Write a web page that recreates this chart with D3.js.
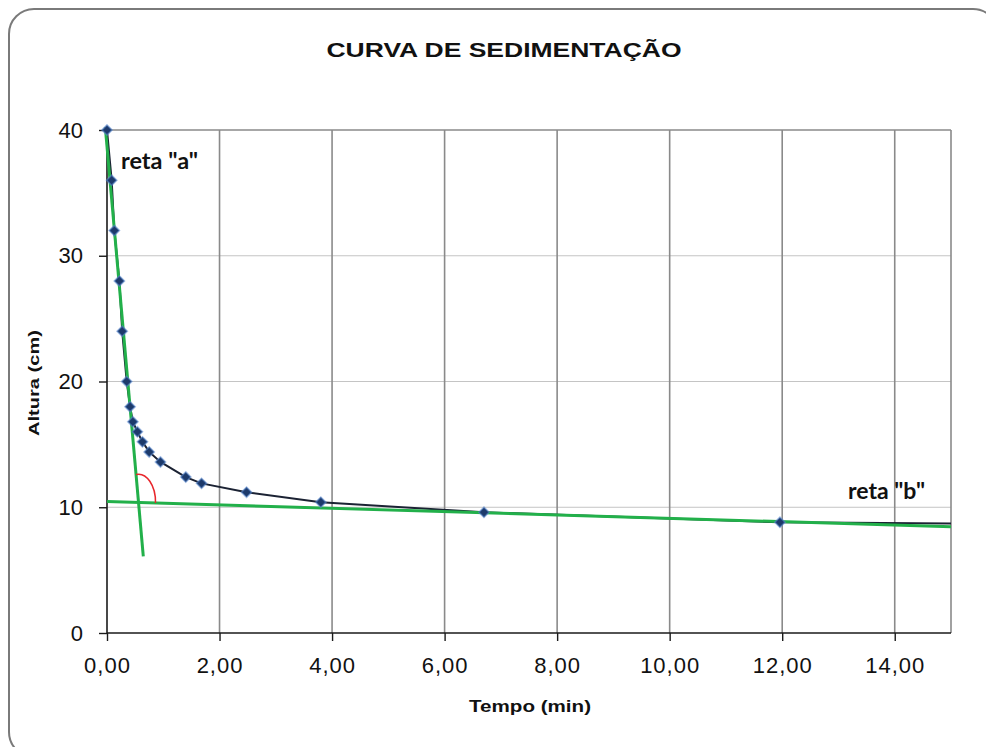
<!DOCTYPE html>
<html>
<head>
<meta charset="utf-8">
<script src="https://cdn.jsdelivr.net/npm/d3@7"></script>
<style>
  body { margin: 0; background: #fff; }
  svg { display: block; }
  .tick text { font-family: "Liberation Sans", Arial, sans-serif; font-size: 22px; fill: #111; }
</style>
</head>
<body>
<div id="chart"></div>
<script>
// Curva de sedimentacao
const tempo = [0, 0.083, 0.13, 0.22, 0.27, 0.35, 0.41, 0.46, 0.54, 0.63, 0.75, 0.95, 1.40, 1.68, 2.48, 3.80, 6.70, 11.96, 16.5];
const altura = [40, 36, 32, 28, 24, 20, 18, 16.8, 16, 15.2, 14.4, 13.6, 12.4, 11.9, 11.2, 10.4, 9.6, 8.8, 8.65];

// retas tangentes
const retaA = [[-0.03, 40.2], [0.645, 6.1]];
const retaB = [[0, 10.45], [15, 8.45]];

const xTicks = [0, 2, 4, 6, 8, 10, 12, 14];
const yTicks = [0, 10, 20, 30, 40];

(function() {
    const width = 986, height = 747;
    const plot = {left: 107, right: 951, top: 130, bottom: 633};

    const svg = d3.select('#chart').append('svg')
        .attr('width', width)
        .attr('height', height);

    // moldura arredondada
    svg.append('rect')
        .attr('x', 9).attr('y', 9)
        .attr('width', 989).attr('height', 748)
        .attr('rx', 25)
        .attr('fill', 'none')
        .attr('stroke', '#7a7a7a')
        .attr('stroke-width', 2);

    const x = d3.scaleLinear().domain([0, 15]).range([plot.left, plot.right]);
    const y = d3.scaleLinear().domain([0, 40]).range([plot.bottom, plot.top]);

    svg.append('defs').append('clipPath').attr('id', 'clip')
        .append('rect')
        .attr('x', plot.left - 6).attr('y', plot.top - 6)
        .attr('width', plot.right - plot.left + 6)
        .attr('height', plot.bottom - plot.top + 6);

    // grade horizontal (clara)
    svg.append('g').selectAll('line')
        .data(yTicks.filter(d => d > 0 && d < 40))
        .enter().append('line')
        .attr('x1', plot.left).attr('x2', plot.right)
        .attr('y1', d => y(d)).attr('y2', d => y(d))
        .attr('stroke', '#c4c4c4').attr('stroke-width', 1);

    // grade vertical (mais escura)
    svg.append('g').selectAll('line')
        .data(xTicks.filter(d => d > 0).concat([15]))
        .enter().append('line')
        .attr('x1', d => x(d)).attr('x2', d => x(d))
        .attr('y1', plot.top).attr('y2', plot.bottom)
        .attr('stroke', '#8a8a8a').attr('stroke-width', 1.6);

    // borda superior da area de plotagem
    svg.append('line')
        .attr('x1', plot.left).attr('x2', plot.right)
        .attr('y1', y(40)).attr('y2', y(40))
        .attr('stroke', '#8a8a8a').attr('stroke-width', 1.6);

    // eixos
    const fmt = d => d3.format('.2f')(d).replace('.', ',');
    const xAxis = svg.append('g')
        .attr('transform', `translate(0,${plot.bottom})`)
        .call(d3.axisBottom(x).tickValues(xTicks).tickFormat(fmt).tickSize(8).tickPadding(16));
    const yAxis = svg.append('g')
        .attr('transform', `translate(${plot.left},0)`)
        .call(d3.axisLeft(y).tickValues(yTicks).tickFormat(d3.format('d')).tickSize(8).tickPadding(16));
    [xAxis, yAxis].forEach(a => {
        a.select('.domain').attr('stroke', '#1a1a1a').attr('stroke-width', 1.6);
        a.selectAll('.tick line').attr('stroke', '#1a1a1a').attr('stroke-width', 1.4);
    });
    xAxis.select('.domain').attr('d', `M${plot.left},0H${plot.right}`);
    yAxis.select('.domain').attr('d', `M0,${plot.bottom}V${plot.top}`);
    xAxis.selectAll('.tick text').attr('letter-spacing', '1px');

    const pts = tempo.map((t, i) => [t, altura[i]]);
    const line = d3.line().x(d => x(d[0])).y(d => y(d[1]));

    const g = svg.append('g').attr('clip-path', 'url(#clip)');

    // curva experimental
    g.append('path')
        .datum(pts)
        .attr('d', line)
        .attr('fill', 'none')
        .attr('stroke', '#1b2233')
        .attr('stroke-width', 2);

    // retas "a" e "b"
    g.selectAll('.reta')
        .data([retaA, retaB])
        .enter().append('path')
        .attr('d', line)
        .attr('fill', 'none')
        .attr('stroke', '#22b04a')
        .attr('stroke-width', 3);

    // marcadores
    g.selectAll('.pt')
        .data(pts)
        .enter().append('path')
        .attr('transform', d => `translate(${x(d[0])},${y(d[1])}) rotate(45)`)
        .attr('d', d3.symbol(d3.symbolSquare, 52))
        .attr('fill', '#1d3a6b')
        .attr('stroke', '#5a88d0')
        .attr('stroke-opacity', 0.55)
        .attr('stroke-width', 1.6);

    // arco vermelho na intersecao das retas
    const pa = retaA.map(d => [x(d[0]), y(d[1])]);
    const pb = retaB.map(d => [x(d[0]), y(d[1])]);
    const ma = (pa[1][1] - pa[0][1]) / (pa[1][0] - pa[0][0]);
    const mb = (pb[1][1] - pb[0][1]) / (pb[1][0] - pb[0][0]);
    const ix = (pb[0][1] - pa[0][1] + ma * pa[0][0] - mb * pb[0][0]) / (ma - mb);
    const iy = pa[0][1] + ma * (ix - pa[0][0]);
    const ry = 28, rx = 17;
    const sx = ix - ry / ma;
    svg.append('path')
        .attr('d', `M${sx},${iy - ry} A${rx},${ry} 0 0 1 ${ix + rx},${iy + mb * rx}`)
        .attr('fill', 'none')
        .attr('stroke', '#e8262b')
        .attr('stroke-width', 1.5);

    // textos
    svg.append('text')
        .attr('x', 504).attr('y', 57)
        .attr('text-anchor', 'middle')
        .attr('font-family', '"Liberation Sans", Arial, sans-serif')
        .attr('font-weight', 'bold')
        .attr('font-size', 21)
        .attr('textLength', 355)
        .attr('lengthAdjust', 'spacingAndGlyphs')
        .attr('fill', '#111')
        .text('CURVA DE SEDIMENTAÇÃO');

    const rotulo = (txt, x0, y0) => svg.append('text')
        .attr('x', x0).attr('y', y0)
        .attr('font-family', 'Lato, "Open Sans", sans-serif')
        .attr('font-weight', 'bold')
        .attr('font-size', 22)
        .attr('textLength', 77)
        .attr('lengthAdjust', 'spacingAndGlyphs')
        .attr('fill', '#111')
        .text(txt);
    rotulo('reta "a"', 121, 169);
    rotulo('reta "b"', 848, 499);

    svg.append('text')
        .attr('x', 530).attr('y', 712)
        .attr('text-anchor', 'middle')
        .attr('font-family', '"Liberation Sans", Arial, sans-serif')
        .attr('font-weight', 'bold')
        .attr('font-size', 17)
        .attr('textLength', 122)
        .attr('lengthAdjust', 'spacingAndGlyphs')
        .attr('fill', '#111')
        .text('Tempo (min)');

    svg.append('text')
        .attr('transform', 'translate(39,383) rotate(-90)')
        .attr('text-anchor', 'middle')
        .attr('font-family', '"Liberation Sans", Arial, sans-serif')
        .attr('font-weight', 'bold')
        .attr('font-size', 15)
        .attr('textLength', 106)
        .attr('lengthAdjust', 'spacingAndGlyphs')
        .attr('fill', '#111')
        .text('Altura  (cm)');
})();
</script>
</body>
</html>
